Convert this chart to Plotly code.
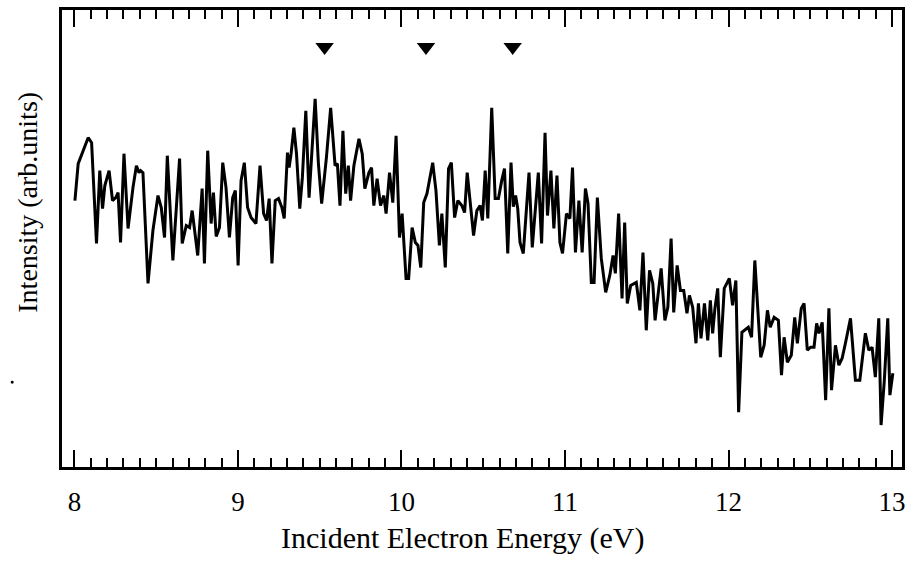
import plotly.graph_objects as go

# Incident electron energy (eV)
energy = [
    8.003, 8.023, 8.084, 8.105, 8.135, 8.155, 8.172, 8.186, 8.212, 8.233,
    8.253, 8.267, 8.282, 8.303, 8.328, 8.358, 8.379, 8.395, 8.405, 8.419,
    8.450, 8.480, 8.511, 8.531, 8.551, 8.568, 8.602, 8.643, 8.659, 8.684,
    8.704, 8.720, 8.754, 8.781, 8.795, 8.815, 8.836,
    8.850, 8.867, 8.887, 8.907, 8.927, 8.948, 8.968, 8.984, 9.001, 9.019,
    9.039, 9.059, 9.080, 9.110, 9.135, 9.157, 9.175, 9.191, 9.208, 9.228,
    9.248, 9.269, 9.283, 9.303, 9.313, 9.325, 9.342, 9.358, 9.378, 9.394,
    9.415, 9.435, 9.472, 9.492, 9.512, 9.541, 9.567, 9.594, 9.608, 9.624,
    9.642, 9.659, 9.675, 9.689, 9.709, 9.740, 9.760, 9.776,
    9.801, 9.817, 9.831, 9.851, 9.872, 9.892, 9.906, 9.927, 9.947, 9.967,
    9.988, 10.004, 10.028, 10.044, 10.065, 10.085, 10.101, 10.118, 10.136, 10.156,
    10.191, 10.211, 10.232, 10.247, 10.268, 10.288, 10.305, 10.325, 10.345, 10.369,
    10.386, 10.402, 10.441, 10.461, 10.481, 10.495, 10.512, 10.528, 10.538, 10.552,
    10.573, 10.593, 10.613, 10.630, 10.650, 10.670, 10.684, 10.698, 10.711, 10.725,
    10.745, 10.780, 10.800, 10.837, 10.857, 10.878, 10.893, 10.914, 10.932, 10.951,
    10.969, 10.985, 11.009, 11.030, 11.046, 11.064, 11.085, 11.105, 11.125, 11.141,
    11.161, 11.178, 11.198, 11.222, 11.249, 11.274, 11.294, 11.308, 11.328, 11.349,
    11.365, 11.381, 11.402, 11.436, 11.458, 11.477, 11.497, 11.517, 11.537, 11.551,
    11.588, 11.611, 11.629, 11.649, 11.665, 11.686, 11.706, 11.726, 11.746, 11.761,
    11.781, 11.801, 11.816, 11.832, 11.853, 11.873, 11.889, 11.903, 11.917, 11.934,
    11.950, 11.974, 12.005, 12.025, 12.045, 12.062, 12.082, 12.100, 12.121, 12.141,
    12.161, 12.197, 12.218, 12.238, 12.255, 12.279, 12.305, 12.324, 12.340, 12.360,
    12.384, 12.405, 12.421, 12.445, 12.462, 12.482, 12.502, 12.523, 12.539, 12.553,
    12.573, 12.594, 12.614, 12.630, 12.654, 12.675, 12.695, 12.715, 12.746, 12.776,
    12.803, 12.837, 12.858, 12.878, 12.898, 12.919, 12.933, 12.953, 12.974, 12.987,
    13.005,
]

# Intensity (arbitrary units)
intensity = [
    267, 304, 330, 325, 224, 297, 259, 282, 297, 267,
    270, 275, 225, 314, 239, 280, 302, 295, 297, 295,
    184, 237, 272, 260, 230, 312, 207, 309, 224, 242,
    240, 257, 212, 279, 204, 317, 244,
    275, 231, 240, 305, 280, 230, 270, 277, 202, 287,
    305, 260, 250, 244, 302, 254, 247, 269, 204, 267,
    269, 260, 249, 315, 300, 314, 340, 314, 259, 290,
    357, 270, 369, 304, 264, 310, 360, 302, 304, 262,
    337, 274, 302, 267, 302, 329, 314, 279,
    295, 300, 262, 289, 262, 272, 254, 295, 265, 332,
    230, 254, 189, 189, 240, 225, 222, 200, 265, 274,
    305, 277, 222, 254, 200, 299, 305, 250, 267, 262,
    255, 295, 232, 257, 262, 247, 297, 249, 295, 360,
    269, 269, 287, 299, 214, 305, 261, 272, 259, 225,
    214, 295, 220, 295, 224, 335, 252, 297, 239, 292,
    225, 214, 254, 249, 300, 215, 267, 215, 279, 264,
    185, 185, 270, 209, 175, 192, 212, 194, 254, 169,
    245, 164, 182, 185, 157, 215, 137, 197, 184, 147,
    199, 147, 160, 229, 155, 202, 177, 177, 154, 172,
    160, 124, 164, 129, 164, 127, 167, 134, 159, 179,
    110, 179, 189, 162, 187, 55, 135, 137, 140, 130,
    207, 110, 122, 157, 140, 150, 147, 92, 130, 105,
    112, 150, 124, 159, 164, 117, 120, 120, 144, 134,
    145, 67, 159, 77, 122, 102, 109, 124, 149, 87,
    87, 134, 117, 120, 90, 149, 42, 87, 149, 72,
    94,
]

# Marked features (triangles above the curve)
marker_energies = [9.53, 10.15, 10.68]
marker_level = [421, 421, 421]

x_ticks = [8, 9, 10, 11, 12, 13]
x_tick_labels = ["8", "9", "10", "11", "12", "13"]

FONT = "Liberation Serif, Times New Roman, serif"

fig = go.Figure()
fig.add_trace(go.Scatter(
    x=energy, y=intensity, mode="lines",
    line=dict(color="black", width=3),
    showlegend=False, hoverinfo="skip",
))
fig.add_trace(go.Scatter(
    x=marker_energies, y=marker_level, mode="markers",
    marker=dict(symbol="triangle-down", size=16, color="black", line=dict(width=0)),
    showlegend=False, hoverinfo="skip",
))

fig.update_layout(
    width=912, height=562,
    margin=dict(l=62, r=7, t=9, b=95),
    paper_bgcolor="white", plot_bgcolor="white",
    font=dict(family=FONT, color="black"),
    xaxis=dict(
        range=[7.924, 13.061],
        tickmode="array", tickvals=x_ticks, ticktext=x_tick_labels,
        ticks="inside", ticklen=17, tickwidth=2.2, tickcolor="black",
        minor=dict(dtick=0.1, tick0=8, ticks="inside", ticklen=9,
                   tickwidth=2, tickcolor="black"),
        showline=True, linecolor="black", linewidth=2.8, mirror="ticks",
        showgrid=False, zeroline=False,
        tickfont=dict(family=FONT, size=27, color="black"),
        ticklabelstandoff=9,
    ),
    yaxis=dict(
        range=[0, 458],
        showticklabels=False, ticks="",
        showline=True, linecolor="black", linewidth=2.8, mirror=True,
        showgrid=False, zeroline=False,
    ),
    annotations=[
        dict(text="Incident Electron Energy (eV)", xref="paper", yref="paper",
             x=0.477, y=-0.155, xanchor="center", yanchor="middle",
             showarrow=False, font=dict(family=FONT, size=30, color="black")),
        dict(text="Intensity (arb.units)", xref="paper", yref="paper",
             x=-0.0415, y=0.5786, xanchor="center", yanchor="middle",
             textangle=-90, showarrow=False,
             font=dict(family=FONT, size=28, color="black")),
    ],
    shapes=[
        dict(type="circle", xref="paper", yref="paper",
             x0=-0.0611, x1=-0.0575, y0=0.182, y1=0.1885,
             fillcolor="black", line=dict(width=0)),
    ],
)

fig.write_html("out.html")
